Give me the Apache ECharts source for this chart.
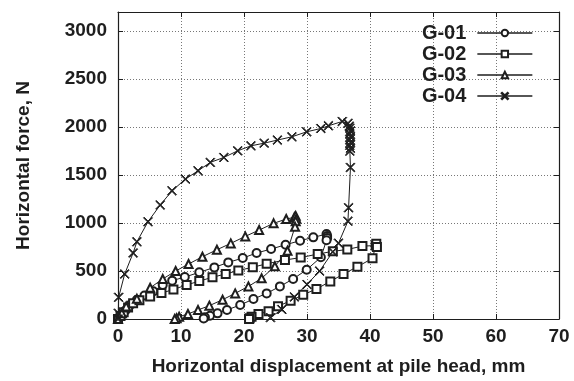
<!DOCTYPE html>
<html>
<head>
<meta charset="utf-8">
<script src="https://cdn.jsdelivr.net/npm/echarts@6/dist/echarts.min.js"></script>
<style>html,body{margin:0;padding:0;background:#fff;}#c{width:574px;height:381px;}</style>
</head>
<body>
<div id="c"></div>
<script>
var seriesNames = ['G-01', 'G-02', 'G-03', 'G-04'];
var xTicks = [0, 10, 20, 30, 40, 50, 60, 70];
var yTicks = [0, 500, 1000, 1500, 2000, 2500, 3000];

var g01 = [[0,0],[0.5,35],[1.2,90],[2.0,150],[3.0,200],[4.2,245],[5.6,290],[7.1,355],[8.6,400],[10.6,437],[12.9,486],[15.3,538],[17.5,590],[19.8,635],[22.0,688],[24.3,729],[26.6,774],[28.9,816],[31.0,851],[33.1,885],[33.2,865],[33.2,845],[33.1,820],
  [32.2,643],[29.95,514],[27.8,417],[25.7,340],[23.6,267],[21.5,208],[19.4,146],[17.3,94],[15.8,59],[14.6,34],[13.8,18],[13.6,5]];
var g02 = [[0,0],[0.4,30],[0.9,70],[1.6,120],[2.4,165],[3.4,195],[5.1,235],[6.9,270],[8.8,308],[10.9,355],[12.9,395],[15.0,435],[17.1,470],[19.1,505],[21.4,540],[23.6,575],[26.5,615],[29.0,640],[31.7,677],[34.1,705],[36.4,725],[38.8,760],[40.9,765],[41.0,785],[41.1,750],
  [40.4,632],[38.0,545],[35.8,469],[33.7,392],[31.5,313],[29.4,253],[27.4,191],[25.4,132],[23.9,80],[22.3,52],[21.2,24],[20.9,7],[20.8,0]];
var g03 = [[0,0],[0.6,60],[1.3,130],[3.0,210],[5.1,325],[7.1,417],[9.15,500],[11.2,573],[13.4,649],[15.7,722],[17.9,788],[20.2,861],[22.4,927],[24.7,997],[26.7,1042],[28.0,1060],[28.2,1075],[28.3,1045],[28.2,1020],[28.1,962],
  [26.9,712],[24.9,549],[22.8,424],[20.7,340],[18.6,267],[16.6,201],[14.5,139],[12.7,94],[11.1,52],[9.7,24],[9.3,7],[9.0,0]];
var g04 = [[0,0],[0.05,60],[0.1,226],[1.06,469],[2.4,688],[3.0,805],[4.76,1014],[6.7,1188],[8.57,1336],[10.7,1458],[12.7,1545],[14.65,1632],[16.8,1684],[19.0,1753],[21.1,1805],[23.2,1833],[25.3,1865],[27.6,1899],[29.95,1951],[32.2,1986],[33.4,2014],[35.6,2059],
  [36.5,2040],[36.7,2010],[36.8,1990],[36.9,1960],[36.8,1930],[36.9,1900],[36.8,1870],[36.9,1840],[36.8,1810],[36.9,1780],[36.8,1750],
  [36.9,1580],[36.6,1160],[36.5,1020],[35.0,790],[34.1,700],[32.0,500],[30.0,360],[28.0,230],[26.0,100],[24.2,15]];

var xSym = 'path://M0,0.7 L0.7,0 L5,4.3 L9.3,0 L10,0.7 L5.7,5 L10,9.3 L9.3,10 L5,5.7 L0.7,10 L0,9.3 L4.3,5 Z';
var dataSets = [g01, g02, g03, g04];
var symbols = ['emptyCircle', 'emptyRect', 'emptyTriangle', xSym];
var sizes = [8, 8, 8, 9];

var ink = '#1e1e1e';
var font = 'Liberation Sans, Arial, sans-serif';

var series = dataSets.map(function (d, i) {
  return {
    name: seriesNames[i], type: 'line', data: d, xAxisIndex: 0, yAxisIndex: 0,
    symbol: symbols[i], symbolSize: sizes[i], showAllSymbol: true,
    lineStyle: { color: ink, width: 1 },
    itemStyle: { color: ink, borderColor: ink, borderWidth: 1 },
    emphasis: { disabled: true }, animation: false, z: 3
  };
});

var chart = echarts.init(document.getElementById('c'), null, { renderer: 'canvas' });
chart.setOption({
  backgroundColor: '#fff',
  animation: false,
  grid: { left: 118, right: 15, top: 12, bottom: 61, containLabel: false },
  legend: {
    data: seriesNames, right: 36, top: 18, orient: 'vertical', align: 'right',
    itemWidth: 55, itemHeight: 8, itemGap: 1,
    lineStyle: { width: 1.3, color: ink, type: 'solid' },
    textStyle: { fontFamily: font, fontWeight: 'bold', fontSize: 20, color: ink, lineHeight: 20, padding: [0, 6, 0, 0] }
  },
  xAxis: [{
    type: 'value', min: xTicks[0], max: xTicks[xTicks.length - 1], interval: 10,
    name: 'Horizontal displacement at pile head, mm', nameLocation: 'middle', nameGap: 38,
    nameTextStyle: { fontFamily: font, fontWeight: 'bold', fontSize: 19, color: ink },
    axisLine: { show: true, onZero: false, lineStyle: { color: ink, width: 1.2 } },
    axisTick: { inside: true, length: 5, lineStyle: { color: ink } },
    axisLabel: { margin: 8, fontFamily: font, fontWeight: 'bold', fontSize: 19, color: ink },
    splitLine: { show: true, lineStyle: { color: '#777', type: [1, 2], width: 1 } }
  }, {
    type: 'value', position: 'top', min: 0, max: 70, interval: 10,
    axisLine: { show: true, onZero: false, lineStyle: { color: ink, width: 1.2 } },
    axisTick: { inside: true, length: 5, lineStyle: { color: ink } },
    axisLabel: { show: false }, splitLine: { show: false }
  }],
  yAxis: [{
    type: 'value', min: 0, max: 3200, interval: 500,
    name: 'Horizontal force, N', nameLocation: 'middle', nameGap: 85,
    nameTextStyle: { fontFamily: font, fontWeight: 'bold', fontSize: 19, color: ink },
    axisLine: { show: true, onZero: false, lineStyle: { color: ink, width: 1.2 } },
    axisTick: { inside: true, length: 5, lineStyle: { color: ink } },
    axisLabel: { margin: 11, showMaxLabel: false, fontFamily: font, fontWeight: 'bold', fontSize: 19, color: ink,
      formatter: function (v) { return yTicks.indexOf(v) >= 0 ? String(v) : ''; } },
    splitLine: { show: true, lineStyle: { color: '#777', type: [1, 2], width: 1 } }
  }, {
    type: 'value', position: 'right', min: 0, max: 3200, interval: 500,
    axisLine: { show: true, onZero: false, lineStyle: { color: ink, width: 1.2 } },
    axisTick: { inside: true, length: 5, lineStyle: { color: ink } },
    axisLabel: { show: false }, splitLine: { show: false }
  }],
  series: series
});
</script>
</body>
</html>
